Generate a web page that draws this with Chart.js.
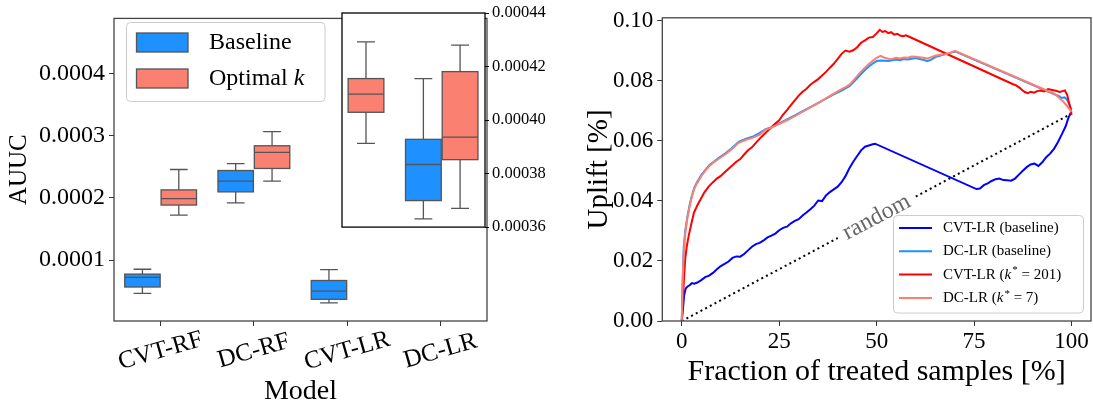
<!DOCTYPE html>
<html>
<head>
<meta charset="utf-8">
<script src="https://cdn.jsdelivr.net/npm/chart.js@4.4.1/dist/chart.umd.min.js"></script>
<style>
  html, body { margin: 0; padding: 0; background: #fff; }
  #wrap { position: relative; width: 1093px; height: 404px; overflow: hidden; }
  canvas { position: absolute; top: 0; }
</style>
</head>
<body>
<div id="wrap">
  <canvas id="boxChart" width="545" height="404" style="left:0"></canvas>
  <canvas id="insetChart" width="212" height="240" style="left:340px"></canvas>
  <canvas id="upliftChart" width="548" height="404" style="left:545px"></canvas>
</div>
<script>
const FONT = '"Liberation Serif", "Times New Roman", serif'
Chart.defaults.font.family = FONT
Chart.defaults.color = '#000'

// ---- left panel: AUUC per model (box statistics) ----
const models = ['CVT-RF', 'DC-RF', 'CVT-LR', 'DC-LR']
const boxLegend = ['Baseline', 'Optimal k']

const baselineMin = [0.0000463, 0.0001922, 0.0000312, 0.0003631]
const baselineQ1  = [0.0000567, 0.0002098, 0.0000369, 0.0003699]
const baselineMed = [0.0000723, 0.0002270, 0.0000500, 0.0003834]
const baselineQ3  = [0.0000775, 0.0002442, 0.0000672, 0.0003928]
const baselineMax = [0.0000853, 0.0002552, 0.0000848, 0.0004155]

const optimalMin = [0.0001723, 0.0002272, 0.0003913, 0.0003670]
const optimalQ1  = [0.0001886, 0.0002475, 0.0004029, 0.0003852]
const optimalMed = [0.0001990, 0.0002734, 0.0004097, 0.0003936]
const optimalQ3  = [0.0002130, 0.0002840, 0.0004155, 0.0004181]
const optimalMax = [0.0002458, 0.0003069, 0.0004292, 0.0004280]

// ---- right panel: uplift curves ----
const upliftLabels = ['CVT-LR (baseline)', 'DC-LR (baseline)', 'CVT-LR (k* = 201)', 'DC-LR (k* = 7)']

const cvtBaseX = [0, 0.3, 0.6, 1, 1.5, 2, 2.6, 3.2, 4, 5, 6, 7, 8, 9, 10, 11, 12, 13, 14, 15, 16, 17, 18, 19, 20,
  21, 22, 23, 24, 25, 26, 27, 28, 29, 30, 31, 32, 33, 34, 35, 36, 37, 38, 39, 40, 41, 42, 43, 44, 45, 46, 47, 48, 49,
  49.6, 75.6, 76.5, 77.5, 78.5, 79.5, 80.5, 81.5, 82.5, 83.5, 84.5, 85.5, 86.5, 87.5, 88.5, 89.5, 90.5, 91.5, 92.5,
  93.5, 94.5, 95.5, 96.5, 97.5, 98.5, 99.2, 100]
const cvtBaseY = [0, 0.0040, 0.0085, 0.0108, 0.0115, 0.0119, 0.0126, 0.0124, 0.0128, 0.0136, 0.0146, 0.0151, 0.0160,
  0.0172, 0.0183, 0.0190, 0.0198, 0.0210, 0.0215, 0.0214, 0.0223, 0.0235, 0.0247, 0.0256, 0.0260, 0.0268, 0.0278,
  0.0284, 0.0291, 0.0302, 0.0310, 0.0314, 0.0325, 0.0333, 0.0339, 0.0351, 0.0361, 0.0372, 0.0384, 0.0401, 0.0399,
  0.0418, 0.0429, 0.0438, 0.0447, 0.0462, 0.0482, 0.0508, 0.0530, 0.0549, 0.0568, 0.0580, 0.0584, 0.0588, 0.0590,
  0.0439, 0.0441, 0.0452, 0.0458, 0.0466, 0.0472, 0.0474, 0.0469, 0.0468, 0.0467, 0.0474, 0.0487, 0.0500, 0.0512,
  0.0521, 0.0524, 0.0516, 0.0528, 0.0545, 0.0557, 0.0573, 0.0595, 0.0621, 0.0648, 0.0676, 0.0698]

const dcBaseX = [0, 0.2, 0.5, 0.9, 1.4, 2, 2.6, 3.2, 3.9, 5, 6.1, 7.1, 8.2, 9.5, 11.2, 12.8, 14.6, 16.5, 18.5, 20, 21.4,
  23, 25, 27, 29, 31, 33, 35, 37, 39, 41, 42, 43, 44, 45, 46, 47, 48, 49, 50, 51, 52, 53, 54, 55, 56, 57, 58, 59, 60,
  61, 62, 63, 64, 65, 66, 67, 68, 69, 70.1, 96.8, 97.5, 98.2, 98.8, 99.4, 100]
const dcBaseY = [0, 0.0130, 0.0245, 0.0302, 0.0345, 0.0385, 0.0418, 0.0443, 0.0462, 0.0486, 0.0504, 0.0519, 0.0530,
  0.0543, 0.0558, 0.0575, 0.0596, 0.0607, 0.0615, 0.0626, 0.0638, 0.0645, 0.0658, 0.0671, 0.0684, 0.0698, 0.0712,
  0.0726, 0.0740, 0.0754, 0.0767, 0.0774, 0.0781, 0.0794, 0.0808, 0.0822, 0.0835, 0.0847, 0.0857, 0.0865, 0.0867,
  0.0866, 0.0865, 0.0868, 0.0870, 0.0868, 0.0872, 0.0870, 0.0873, 0.0875, 0.0872, 0.0869, 0.0865, 0.0870, 0.0878,
  0.0882, 0.0886, 0.0889, 0.0893, 0.0897, 0.0748, 0.0742, 0.0744, 0.0738, 0.0722, 0.0703]

const cvtOptX = [0, 0.3, 0.6, 0.9, 1.3, 1.8, 2.4, 3.1, 4, 4.8, 5.8, 6.9, 8, 9, 10, 11, 12, 13, 14, 15, 16, 17, 18, 19,
  20, 21, 22, 23, 24, 25, 26, 27, 28, 29, 30, 31, 32, 33, 34, 35, 36, 37, 38, 39, 40, 41, 42, 43, 44, 45, 46, 47, 48,
  49, 50, 50.8, 51.5, 52.2, 53, 53.7, 54.5, 55.3, 56, 56.8, 57.5, 58.5, 85, 85.8, 86.7, 87.4, 88, 88.8, 89.6, 90.4,
  91.2, 92, 93, 94, 95, 96, 97, 97.7, 98.3, 98.9, 99.4, 99.8, 100]
const cvtOptY = [0, 0.0080, 0.0150, 0.0209, 0.0250, 0.0285, 0.0320, 0.0360, 0.0385, 0.0404, 0.0428, 0.0447, 0.0462,
  0.0474, 0.0483, 0.0495, 0.0507, 0.0518, 0.0530, 0.0539, 0.0554, 0.0568, 0.0578, 0.0593, 0.0607, 0.0620, 0.0632,
  0.0645, 0.0657, 0.0668, 0.0687, 0.0702, 0.0718, 0.0734, 0.0750, 0.0763, 0.0773, 0.0786, 0.0796, 0.0805, 0.0817,
  0.0829, 0.0843, 0.0856, 0.0872, 0.0889, 0.0900, 0.0896, 0.0901, 0.0911, 0.0926, 0.0934, 0.0943, 0.0945, 0.0957,
  0.0969, 0.0962, 0.0965, 0.0958, 0.0961, 0.0953, 0.0956, 0.0950, 0.0948, 0.0951, 0.0945, 0.0788, 0.0784, 0.0776,
  0.0768, 0.0762, 0.0758, 0.0763, 0.0760, 0.0765, 0.0767, 0.0764, 0.0772, 0.0769, 0.0766, 0.0762, 0.0765, 0.0767,
  0.0752, 0.0725, 0.0702, 0.0685]

const dcOptX = [0, 0.2, 0.5, 0.9, 1.4, 2, 2.6, 3.2, 3.9, 5, 6.1, 7.1, 8.2, 9.5, 11.2, 12.8, 14.6, 16.5, 18.5, 20, 21.4,
  23, 25, 27, 29, 31, 33, 35, 37, 39, 41, 42, 43, 44, 45, 46, 47, 48, 49, 50, 51, 52, 53, 54, 55, 56, 57, 58, 59, 60,
  61, 62, 63, 64, 65, 66, 67, 68, 69, 70.1, 92.7, 93.5, 94.5, 95.5, 96.2, 97, 97.8, 98.7, 99.4, 100]
const dcOptY = [0, 0.0120, 0.0230, 0.0290, 0.0339, 0.0380, 0.0415, 0.0440, 0.0458, 0.0482, 0.0501, 0.0516, 0.0528,
  0.0540, 0.0555, 0.0572, 0.0593, 0.0603, 0.0611, 0.0620, 0.0636, 0.0644, 0.0655, 0.0668, 0.0682, 0.0697, 0.0711,
  0.0725, 0.0741, 0.0757, 0.0772, 0.0778, 0.0786, 0.0800, 0.0815, 0.0830, 0.0843, 0.0855, 0.0866, 0.0876, 0.0882,
  0.0876, 0.0873, 0.0872, 0.0876, 0.0874, 0.0877, 0.0876, 0.0880, 0.0879, 0.0878, 0.0876, 0.0874, 0.0878, 0.0883,
  0.0885, 0.0887, 0.0889, 0.0893, 0.0899, 0.0772, 0.0768, 0.0762, 0.0757, 0.0750, 0.0740, 0.0731, 0.0718, 0.0707,
  0.0696]

const randomX = [0, 100]
const randomY = [0, 0.069]

const xTicksUplift = [0, 25, 50, 75, 100]

// colours
const BLUE = '#1e90ff'
const SALMON = '#fa8072'
const EDGE = '#555555'
const SPINE = '#444444'

const boxGroups = [
  { color: BLUE, offset: -0.195, min: baselineMin, q1: baselineQ1, med: baselineMed, q3: baselineQ3, max: baselineMax },
  { color: SALMON, offset: 0.195, min: optimalMin, q1: optimalQ1, med: optimalMed, q3: optimalQ3, max: optimalMax }
]

// Draw text where a standalone "k" is italic and "k*" gets a superscript star
function drawRich(ctx, text, x, y, size) {
  const parts = text.split(/(k\*|\bk\b)/)
  let cx = x
  parts.forEach(p => {
    if (!p) return
    if (p === 'k' || p === 'k*') {
      ctx.font = `italic ${size}px ${FONT}`
      ctx.fillText('k', cx, y)
      cx += ctx.measureText('k').width + 1
      if (p === 'k*') {
        ctx.font = `${Math.round(size * 0.72)}px ${FONT}`
        ctx.fillText('*', cx, y - size * 0.28)
        cx += ctx.measureText('*').width
      }
    } else {
      ctx.font = `${size}px ${FONT}`
      ctx.fillText(p, cx, y)
      cx += ctx.measureText(p).width
    }
  })
}

// Box plot drawing through the chart's own scales
function makeBoxPlugin(frameColor, whiteBackground) {
  return {
    id: 'boxPlot',
    beforeDraw(chart) {
      if (!whiteBackground) return
      const a = chart.chartArea
      chart.ctx.save()
      chart.ctx.fillStyle = '#fff'
      chart.ctx.fillRect(a.left, a.top, a.right - a.left, a.bottom - a.top)
      chart.ctx.restore()
    },
    afterDatasetsDraw(chart) {
      const { ctx, chartArea: a, scales: { x, y } } = chart
      ctx.save()
      ctx.beginPath()
      ctx.rect(a.left, a.top, a.right - a.left, a.bottom - a.top)
      ctx.clip()
      ctx.lineWidth = 1.3
      ctx.strokeStyle = EDGE
      boxGroups.forEach(g => {
        g.med.forEach((m, i) => {
          const cx = x.getPixelForValue(i + g.offset)
          const hw = x.getPixelForValue(i + g.offset + 0.19) - cx
          const yMin = y.getPixelForValue(g.min[i])
          const yMax = y.getPixelForValue(g.max[i])
          const yQ1 = y.getPixelForValue(g.q1[i])
          const yQ3 = y.getPixelForValue(g.q3[i])
          const yMed = y.getPixelForValue(m)
          ctx.beginPath()
          ctx.moveTo(cx, yQ3); ctx.lineTo(cx, yMax)
          ctx.moveTo(cx - hw / 2, yMax); ctx.lineTo(cx + hw / 2, yMax)
          ctx.moveTo(cx, yQ1); ctx.lineTo(cx, yMin)
          ctx.moveTo(cx - hw / 2, yMin); ctx.lineTo(cx + hw / 2, yMin)
          ctx.stroke()
          ctx.fillStyle = g.color
          ctx.fillRect(cx - hw, yQ3, 2 * hw, yQ1 - yQ3)
          ctx.strokeRect(cx - hw, yQ3, 2 * hw, yQ1 - yQ3)
          ctx.beginPath()
          ctx.moveTo(cx - hw, yMed); ctx.lineTo(cx + hw, yMed)
          ctx.stroke()
        })
      })
      ctx.restore()
    },
    afterDraw(chart) {
      const { ctx, chartArea: a } = chart
      ctx.save()
      ctx.strokeStyle = frameColor
      ctx.lineWidth = 1.3
      ctx.strokeRect(a.left, a.top, a.right - a.left, a.bottom - a.top)
      ctx.restore()
    }
  }
}

// Category labels (rotated, centred) and legend for the left panel
const leftDecor = {
  id: 'leftDecor',
  afterDraw(chart) {
    const { ctx, scales: { x } } = chart
    ctx.save()
    ctx.fillStyle = '#000'
    ctx.font = `25px ${FONT}`
    ctx.textAlign = 'center'
    ctx.textBaseline = 'middle'
    models.forEach((m, i) => {
      ctx.save()
      ctx.translate(x.getPixelForValue(i), 351)
      ctx.rotate(-16 * Math.PI / 180)
      ctx.fillText(m, 0, 0)
      ctx.restore()
    })
    // legend
    ctx.beginPath()
    ctx.roundRect(126.5, 22.5, 198.5, 79, 4)
    ctx.fillStyle = 'rgba(255,255,255,0.8)'
    ctx.fill()
    ctx.strokeStyle = '#cccccc'
    ctx.lineWidth = 1
    ctx.stroke()
    ctx.textAlign = 'left'
    boxLegend.forEach((label, i) => {
      const cy = 42.5 + i * 36
      ctx.fillStyle = boxGroups[i].color
      ctx.fillRect(136.5, cy - 9.5, 51.5, 19)
      ctx.strokeStyle = EDGE
      ctx.lineWidth = 1.3
      ctx.strokeRect(136.5, cy - 9.5, 51.5, 19)
      ctx.fillStyle = '#000'
      drawRich(ctx, label, 209, cy, 24)
    })
    ctx.restore()
  }
}

new Chart(document.getElementById('boxChart'), {
  type: 'scatter',
  data: { datasets: [] },
  options: {
    responsive: false,
    animation: false,
    layout: { padding: { top: 10, right: 58, left: 0, bottom: 0 } },
    plugins: { legend: { display: false }, tooltip: { enabled: false } },
    scales: {
      x: {
        type: 'linear', min: -0.5, max: 3.5,
        afterBuildTicks: s => { s.ticks = models.map((m, i) => ({ value: i })) },
        ticks: { display: false },
        grid: { drawOnChartArea: false, tickLength: 5, tickColor: '#333' },
        border: { display: false },
        title: { display: true, text: 'Model', font: { size: 28, lineHeight: 0.8 }, padding: { top: 0, bottom: 1.5 } },
        afterFit: s => { s.height = 83 }
      },
      y: {
        min: 0.000002, max: 0.000489,
        ticks: { stepSize: 0.0001, includeBounds: false, callback: v => v.toFixed(4), font: { size: 24 }, padding: 4 },
        grid: { drawOnChartArea: false, tickLength: 5, tickColor: '#333' },
        border: { display: false },
        title: { display: true, text: 'AUUC', font: { size: 25 }, padding: { top: 4.5, bottom: 0 } },
        afterFit: s => { s.width = 114 }
      }
    }
  },
  plugins: [makeBoxPlugin(SPINE, false), leftDecor]
})

// zoomed inset over CVT-LR / DC-LR
new Chart(document.getElementById('insetChart'), {
  type: 'scatter',
  data: { datasets: [] },
  options: {
    responsive: false,
    animation: false,
    layout: { padding: { top: 13, right: 0, left: 2, bottom: 12 } },
    plugins: { legend: { display: false }, tooltip: { enabled: false } },
    scales: {
      x: { type: 'linear', min: 1.94, max: 3.46, display: false },
      y: {
        position: 'right', min: 0.00036, max: 0.00044,
        ticks: { stepSize: 0.00002, callback: v => v.toFixed(5), font: { size: 16.5 }, padding: 3 },
        grid: { drawOnChartArea: false, tickLength: 4, tickColor: '#000' },
        border: { display: false },
        afterFit: s => { s.width = 67 }
      }
    }
  },
  plugins: [makeBoxPlugin('#000', true)]
})

// ---- right panel ----
const toPoints = (xs, ys) => xs.map((x, i) => ({ x: x, y: ys[i] }))

const upliftDecor = {
  id: 'upliftDecor',
  afterDatasetsDraw(chart) {
    const { ctx, scales: { x, y } } = chart
    // "random" label sitting on the diagonal
    const x0 = x.getPixelForValue(randomX[0]), y0 = y.getPixelForValue(randomY[0])
    const x1 = x.getPixelForValue(randomX[1]), y1 = y.getPixelForValue(randomY[1])
    const ang = Math.atan2(y1 - y0, x1 - x0)
    ctx.save()
    ctx.translate(x.getPixelForValue(50), y.getPixelForValue(0.0345))
    ctx.rotate(ang)
    ctx.fillStyle = '#fff'
    ctx.fillRect(-44, -13, 88, 26)
    ctx.fillStyle = '#666'
    ctx.font = `24px ${FONT}`
    ctx.textAlign = 'center'
    ctx.textBaseline = 'middle'
    ctx.fillText('random', 0, 0)
    ctx.restore()
  },
  afterDraw(chart) {
    const { ctx, chartArea: a } = chart
    ctx.save()
    ctx.strokeStyle = SPINE
    ctx.lineWidth = 1.3
    ctx.strokeRect(a.left, a.top, a.right - a.left, a.bottom - a.top)
    // legend
    ctx.beginPath()
    ctx.roundRect(348.5, 215.5, 190, 97.5, 4)
    ctx.fillStyle = 'rgba(255,255,255,0.8)'
    ctx.fill()
    ctx.strokeStyle = '#cccccc'
    ctx.lineWidth = 1
    ctx.stroke()
    ctx.textBaseline = 'middle'
    ctx.textAlign = 'left'
    chart.data.datasets.slice(0, 4).forEach((ds, i) => {
      const cy = 228 + i * 23.3
      ctx.strokeStyle = ds.borderColor
      ctx.lineWidth = 2
      ctx.beginPath()
      ctx.moveTo(354, cy); ctx.lineTo(387, cy)
      ctx.stroke()
      ctx.fillStyle = '#000'
      drawRich(ctx, ds.label, 398, cy, 15)
    })
    ctx.restore()
  }
}

new Chart(document.getElementById('upliftChart'), {
  type: 'line',
  data: {
    datasets: [
      { label: upliftLabels[0], data: toPoints(cvtBaseX, cvtBaseY), borderColor: '#0000ff', order: 3 },
      { label: upliftLabels[1], data: toPoints(dcBaseX, dcBaseY), borderColor: BLUE, order: 2 },
      { label: upliftLabels[2], data: toPoints(cvtOptX, cvtOptY), borderColor: '#ff0000', order: 1 },
      { label: upliftLabels[3], data: toPoints(dcOptX, dcOptY), borderColor: SALMON, order: 0 },
      { label: 'random', data: toPoints(randomX, randomY), borderColor: '#000', borderDash: [2, 3.3], order: 4 }
    ]
  },
  options: {
    responsive: false,
    animation: false,
    layout: { padding: { top: 10.7, right: 2, left: 0, bottom: 0 } },
    elements: { point: { radius: 0 }, line: { borderWidth: 2, tension: 0 } },
    plugins: { legend: { display: false }, tooltip: { enabled: false } },
    scales: {
      x: {
        type: 'linear', min: -5, max: 105,
        afterBuildTicks: s => { s.ticks = xTicksUplift.map(v => ({ value: v })) },
        ticks: { font: { size: 23 }, padding: 2, maxRotation: 0 },
        grid: { drawOnChartArea: false, tickLength: 5, tickColor: '#333' },
        border: { display: false },
        title: { display: true, text: 'Fraction of treated samples [%]', font: { size: 30 }, padding: { top: 0, bottom: 14 } },
        afterFit: s => { s.height = 83 }
      },
      y: {
        min: 0, max: 0.1009,
        ticks: { stepSize: 0.02, includeBounds: false, callback: v => v.toFixed(2), font: { size: 23 }, padding: 4 },
        grid: { drawOnChartArea: false, tickLength: 5, tickColor: '#333' },
        border: { display: false },
        title: { display: true, text: 'Uplift [%]', font: { size: 29 }, padding: { top: 37, bottom: 0 } },
        afterFit: s => { s.width = 117.3 }
      }
    }
  },
  plugins: [upliftDecor]
})
</script>
</body>
</html>
